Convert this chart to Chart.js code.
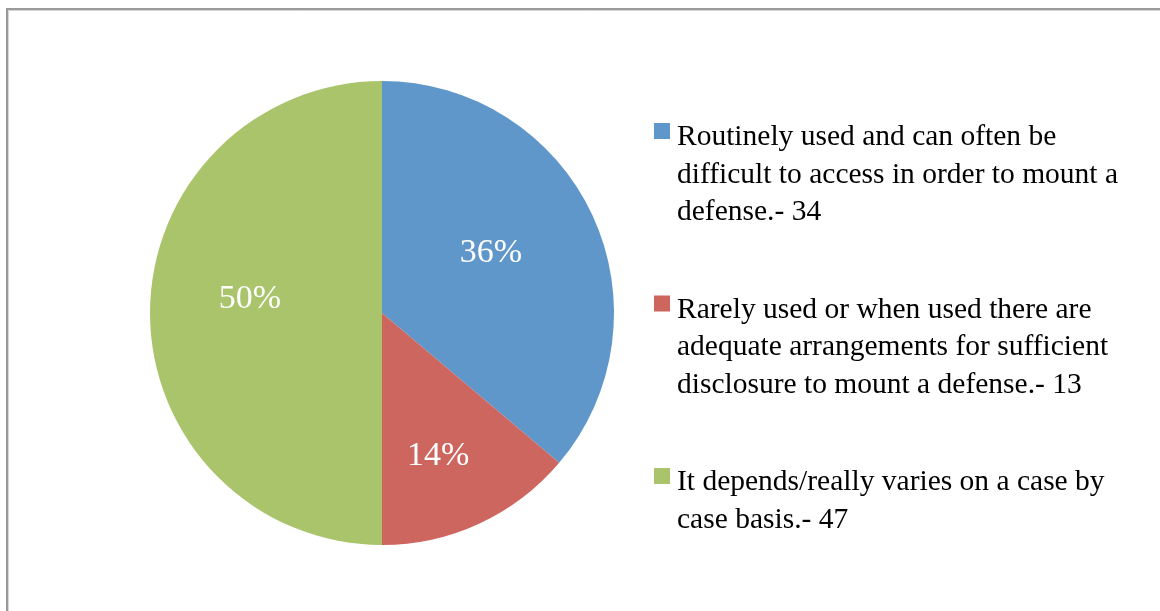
<!DOCTYPE html>
<html>
<head>
<meta charset="utf-8">
<script src="https://cdn.jsdelivr.net/npm/chart.js@4/dist/chart.umd.min.js"></script>
<style>
  html, body { margin: 0; padding: 0; background: #fff; }
  #wrap { width: 1160px; height: 611px; position: relative; }
</style>
</head>
<body>
<div id="wrap"><canvas id="c" width="1160" height="611"></canvas></div>
<script>
// ---- data ----
const categories = [
  "Routinely used and can often be difficult to access in order to mount a defense.- 34",
  "Rarely used or when used there are adequate arrangements for sufficient disclosure to mount a defense.- 13",
  "It depends/really varies on a case by case basis.- 47"
];
const legendLines = [
  ["Routinely used and can often be", "difficult to access in order to mount a", "defense.- 34"],
  ["Rarely used or when used there are", "adequate arrangements for sufficient", "disclosure to mount a defense.- 13"],
  ["It depends/really varies on a case by", "case basis.- 47"]
];
const counts = [34, 13, 47];
const percentLabels = ["36%", "14%", "50%"];

// ---- styles ----
const colors = ["#6097CA", "#CE6660", "#AAC46C"];
const labelRadiusFrac = [0.54, 0.655, 0.573];
const labelAngleShift = [-4.7, 3.2, 6.9]; // degrees
const FONT = '"Liberation Serif", "DejaVu Serif", serif';

const framePlugin = {
  id: 'frame',
  beforeDraw(chart) {
    const ctx = chart.ctx;
    ctx.save();
    ctx.fillStyle = '#fff';
    ctx.fillRect(0, 0, chart.width, chart.height);
    ctx.strokeStyle = '#9a9a9a';
    ctx.lineWidth = 2;
    ctx.beginPath();
    ctx.moveTo(7, chart.height + 5);
    ctx.lineTo(7, 9);
    ctx.lineTo(chart.width + 5, 9);
    ctx.stroke();
    ctx.strokeStyle = '#d6d6d6';
    ctx.lineWidth = 1;
    ctx.beginPath();
    ctx.moveTo(8.5, chart.height + 5);
    ctx.lineTo(8.5, 10.5);
    ctx.lineTo(chart.width + 5, 10.5);
    ctx.stroke();
    ctx.restore();
  }
};

const labelPlugin = {
  id: 'sliceLabels',
  afterDatasetsDraw(chart) {
    const ctx = chart.ctx;
    const meta = chart.getDatasetMeta(0);
    ctx.save();
    ctx.fillStyle = '#fff';
    ctx.font = '34px ' + FONT;
    ctx.textAlign = 'center';
    ctx.textBaseline = 'middle';
    meta.data.forEach((arc, i) => {
      const p = arc.getProps(['x', 'y', 'startAngle', 'endAngle', 'outerRadius'], true);
      const mid = (p.startAngle + p.endAngle) / 2 + labelAngleShift[i] * Math.PI / 180;
      const r = p.outerRadius * labelRadiusFrac[i];
      ctx.fillText(percentLabels[i], p.x + Math.cos(mid) * r, p.y + Math.sin(mid) * r + 2);
    });
    ctx.restore();
  }
};

const legendPlugin = {
  id: 'sideLegend',
  afterDraw(chart) {
    const ctx = chart.ctx;
    ctx.save();
    ctx.font = '29.5px ' + FONT;
    ctx.textAlign = 'left';
    ctx.textBaseline = 'alphabetic';
    const x0 = 677, lineH = 37.5, blockGap = 60;
    let y = 145;
    legendLines.forEach((lines, i) => {
      ctx.fillStyle = colors[i];
      ctx.fillRect(654, y - 22, 16, 16);
      ctx.fillStyle = '#000';
      lines.forEach((ln, j) => {
        ctx.fillText(ln, x0, y + j * lineH);
      });
      y += lines.length * lineH + blockGap;
    });
    ctx.restore();
  }
};

new Chart(document.getElementById('c'), {
  type: 'pie',
  data: {
    labels: categories,
    datasets: [{
      data: counts,
      backgroundColor: colors,
      borderWidth: 0,
      hoverOffset: 0
    }]
  },
  options: {
    responsive: false,
    animation: false,
    rotation: 0,
    layout: { padding: { left: 150, right: 546, top: 81, bottom: 66 } },
    plugins: {
      legend: { display: false },
      tooltip: { enabled: false },
      title: { display: false }
    },
    events: []
  },
  plugins: [framePlugin, labelPlugin, legendPlugin]
});
</script>
</body>
</html>
